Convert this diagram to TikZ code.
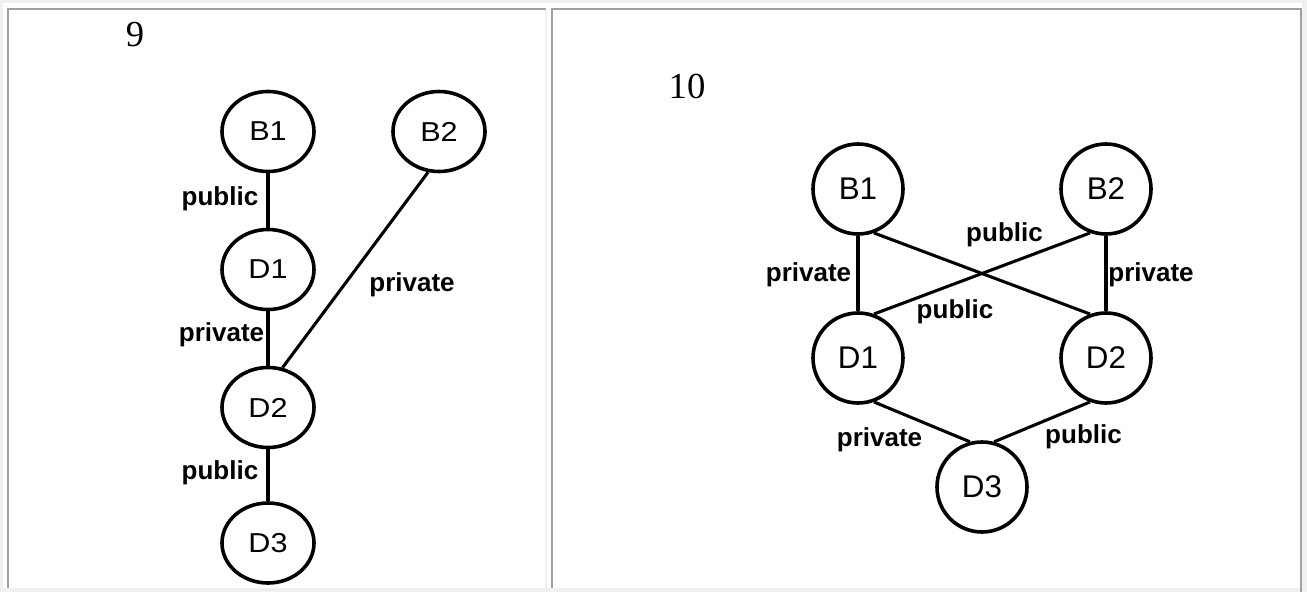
\documentclass[tikz,border=0pt]{standalone}
\usepackage{fontspec}
\setmainfont{Liberation Serif}
\newfontfamily\lblfont{Liberation Sans}
\newfontfamily\widefont[FakeStretch=1.12]{Liberation Sans}
\usetikzlibrary{shapes.geometric}
\definecolor{cdark}{HTML}{A0A0A0}
\definecolor{clight}{HTML}{F0F0F0}
\begin{document}
\begin{tikzpicture}[x=0.75pt,y=-0.75pt,
  lnode/.style={ellipse,draw,line width=2.7pt,minimum width=69pt,minimum height=60pt,inner sep=0pt,font=\widefont\fontsize{20.5}{21}\selectfont},
  rnode/.style={circle,draw,line width=2.7pt,minimum size=67.5pt,inner sep=0pt,font=\lblfont\fontsize{23.5}{24}\selectfont},
  elabel/.style={inner sep=0pt,font=\lblfont\bfseries\fontsize{19.5}{20}\selectfont},
  edge/.style={line width=2.7pt},
  diag/.style={line width=2.3pt},
  numlabel/.style={inner sep=0pt,font=\fontsize{27.5}{28}\selectfont}]
\useasboundingbox (0,0) rectangle (1307,592);
\fill[white] (0,0) rectangle (1307,592);
% table borders
\fill[clight] (0,0) rectangle (1307,3);
\fill[clight] (0,0) rectangle (3,592);
\fill[clight] (1302,0) rectangle (1307,592);
\fill[clight] (0,588) rectangle (1307,592);
\fill[clight] (545,10) rectangle (547,588);
\fill[cdark] (7,8) rectangle (546,10);
\fill[cdark] (7,8) rectangle (9,588);
\fill[cdark] (551,8) rectangle (1302,10);
\fill[cdark] (551,8) rectangle (553,588);
\fill[cdark] (1300,8) rectangle (1302,592);
% numbers
\node[numlabel] (n9) at (135,35) {9};
\node[numlabel] (n10) at (687,86) {10};
% left diagram
\node[lnode] (lB1) at (268,131.5) {B1};
\node[lnode] (lB2) at (439,131.5) {B2};
\node[lnode] (lD1) at (268,269.5) {D1};
\node[lnode] (lD2) at (268,407.5) {D2};
\node[lnode] (lD3) at (268,543) {D3};
\draw[edge] (lB1.south) -- (lD1.north);
\draw[edge] (lD1.south) -- (lD2.north);
\draw[edge] (lD2.south) -- (lD3.north);
\draw[diag] (lB2.-105) -- (lD2.70);
\node[elabel] (lp1) at (220,199) {public};
\node[elabel] (lp2) at (221.5,335) {private};
\node[elabel] (lp3) at (412,285) {private};
\node[elabel] (lp4) at (220,473) {public};
% right diagram
\node[rnode] (rB1) at (858,189) {B1};
\node[rnode] (rB2) at (1106,189) {B2};
\node[rnode] (rD1) at (858,358) {D1};
\node[rnode] (rD2) at (1106,358) {D2};
\node[rnode] (rD3) at (982,487) {D3};
\draw[edge] (rB1.south) -- (rD1.north);
\draw[edge] (rB2.south) -- (rD2.north);
\draw[diag] (rB1.-70) -- (rD2.110);
\draw[diag] (rB2.-110) -- (rD1.70);
\draw[diag] (rD1.-70) -- (rD3.105);
\draw[diag] (rD3.75) -- (rD2.-110);
\node[elabel] (rl1) at (808.5,275) {private};
\node[elabel] (rl2) at (1004.5,235) {public};
\node[elabel] (rl3) at (1151,275) {private};
\node[elabel] (rl4) at (955,312) {public};
\node[elabel] (rl5) at (879.5,440) {private};
\node[elabel] (rl6) at (1083.5,437) {public};
\end{tikzpicture}
\end{document}
